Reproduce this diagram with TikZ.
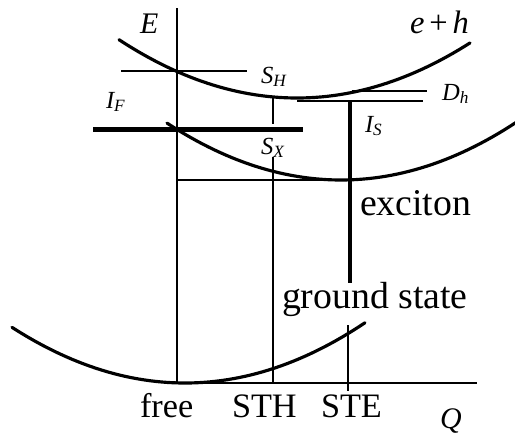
\documentclass[tikz,border=0pt]{standalone}
\usepackage{fontspec}
\setmainfont{Liberation Serif}
\usetikzlibrary{positioning}

\begin{document}
\begin{tikzpicture}[x=0.2cm, y=-0.2cm, every node/.style={inner sep=0pt, outer sep=0pt}]
\tikzset{curve/.style={line width=1.8pt, line cap=round}}
\tikzset{thinline/.style={line width=1pt}}
\tikzset{word/.style={anchor=base west, font=\fontsize{21.5}{24}\selectfont}}
\tikzset{ticklbl/.style={anchor=base west, font=\fontsize{19.5}{22}\selectfont}}
\tikzset{axsym/.style={anchor=base west, font=\fontsize{17}{19}\selectfont\itshape}}
\tikzset{sym/.style={anchor=base west, font=\fontsize{14}{16}\selectfont\itshape}}
\useasboundingbox (0,0) rectangle (51.5,43.5);
% axes
\coordinate (origin) at (17.7,38.3);
\coordinate (etop) at (17.7,0.8);
\coordinate (qend) at (47.7,38.3);
\draw[line width=1.6pt] (origin) -- (etop);
\draw[line width=1.2pt] (origin) -- (qend);
% e+h, exciton and ground state curves
\draw[curve] plot[domain=11.9:47, samples=60] (\x, {9.8-0.0184*(\x-29.7)^2});
\draw[curve] plot[domain=16.7:51.6, samples=60] (\x, {18.0-0.0188*(\x-34.1)^2});
\draw[curve] plot[domain=1.2:36.5, samples=60] (\x, {38.3-0.0186*(\x-18.5)^2});
% levels
\coordinate (sh left) at (12.1,7.1);
\coordinate (sh right) at (24.7,7.1);
\coordinate (if left) at (9.3,12.95);
\coordinate (if right) at (30.3,12.95);
\coordinate (x left) at (17.7,18.0);
\coordinate (x right) at (35.0,18.0);
\coordinate (dh1 left) at (35.2,9.07);
\coordinate (dh1 right) at (42.7,9.07);
\coordinate (dh2 left) at (29.7,10.1);
\coordinate (dh2 right) at (42.3,10.1);
\draw[thinline] (sh left) -- (sh right);
\draw[line width=3pt] (if left) -- (if right);
\draw[thinline] (x left) -- (x right);
\draw[thinline] (dh1 left) -- (dh1 right);
\draw[thinline] (dh2 left) -- (dh2 right);
% STH and STE
\coordinate (sth a) at (27.3,9.7);
\coordinate (sth b) at (27.3,12.4);
\coordinate (sth c) at (27.3,15.7);
\coordinate (sth d) at (27.3,38.3);
\coordinate (ste a) at (35.0,10.1);
\coordinate (ste b) at (35.0,28.3);
\coordinate (ste c) at (34.8,32.5);
\coordinate (ste d) at (34.8,39.1);
\draw[thinline] (sth a) -- (sth b);
\draw[thinline] (sth c) -- (sth d);
\draw[line width=2.1pt] (ste a) -- (ste b);
\draw[thinline] (ste c) -- (ste d);
% labels
\node[axsym] (E) at (14.0,3.4) {E};
\node[anchor=base west, font=\fontsize{18.5}{21}\selectfont] (eh) at (41.0,3.3) {\textit{e}\hspace{0.15em}+\hspace{0.15em}\textit{h}};
\node[sym] (SH) at (26.1,8.3) {S\textsubscript{H}};
\node[sym] (IF) at (10.6,10.8) {I\textsubscript{F}};
\node[sym] (Dh) at (44.2,10.0) {D\textsubscript{h}};
\node[sym] (IS) at (36.5,13.2) {I\textsubscript{S}};
\node[sym] (SX) at (26.1,15.4) {S\textsubscript{X}};
\node[word] (exciton) at (36.0,21.5) {exciton};
\node[word] (ground) at (28.2,30.8) {ground state};
\node[ticklbl] (free) at (14.0,41.7) {free};
\node[ticklbl] (sth) at (23.2,41.7) {STH};
\node[ticklbl] (ste) at (32.1,41.7) {STE};
\node[axsym] (Q) at (44.0,42.8) {Q};
\end{tikzpicture}
\end{document}
